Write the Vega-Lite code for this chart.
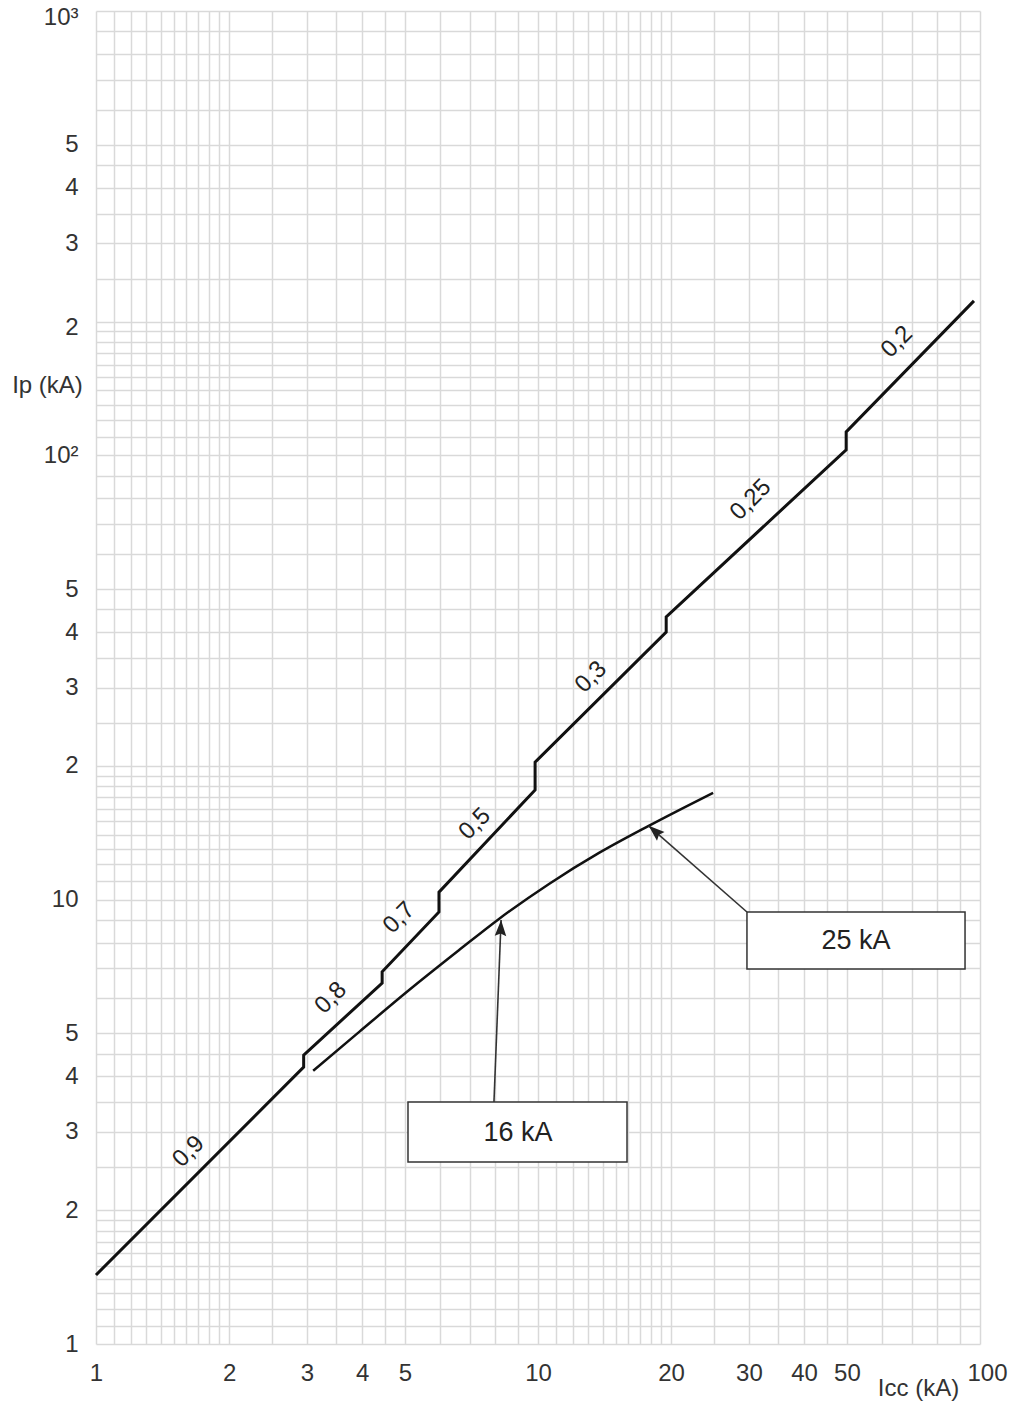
{
  "$schema": "https://vega.github.io/schema/vega-lite/v6.json",
  "width": 884,
  "height": 1333,
  "autosize": "none",
  "padding": {"left": 96, "top": 11, "right": 36, "bottom": 60},
  "background": "white",
  "config": {
    "view": {"stroke": null},
    "font": "Liberation Sans",
    "axis": {"labelFont": "Liberation Sans", "titleFont": "Liberation Sans"}
  },
  "datasets": {
    "main": [
      {"i": 1, "x": 1, "y": 1.43},
      {"i": 2, "x": 2.95, "y": 4.2},
      {"i": 3, "x": 2.95, "y": 4.47},
      {"i": 4, "x": 4.44, "y": 6.49},
      {"i": 5, "x": 4.44, "y": 6.88},
      {"i": 6, "x": 5.97, "y": 9.38},
      {"i": 7, "x": 5.97, "y": 10.4},
      {"i": 8, "x": 9.85, "y": 17.66},
      {"i": 9, "x": 9.85, "y": 20.4},
      {"i": 10, "x": 19.5, "y": 40.0},
      {"i": 11, "x": 19.5, "y": 43.3},
      {"i": 12, "x": 49.8, "y": 102.9},
      {"i": 13, "x": 49.8, "y": 112.9},
      {"i": 14, "x": 96.9, "y": 222.6}
    ],
    "curve": [
      {"i": 1, "x": 3.10, "y": 4.12},
      {"i": 2, "x": 3.94, "y": 5.04},
      {"i": 3, "x": 5.11, "y": 6.26},
      {"i": 4, "x": 6.63, "y": 7.70},
      {"i": 5, "x": 8.16, "y": 9.05},
      {"i": 6, "x": 10.59, "y": 10.85},
      {"i": 7, "x": 13.74, "y": 12.74},
      {"i": 8, "x": 17.8, "y": 14.66},
      {"i": 9, "x": 24.9, "y": 17.4}
    ],
    "cosphi": [
      {"label": "0,9", "x": 1.62, "y": 2.71},
      {"label": "0,8", "x": 3.40, "y": 6.01},
      {"label": "0,7", "x": 4.85, "y": 9.10},
      {"label": "0,5", "x": 7.20, "y": 14.8},
      {"label": "0,3", "x": 13.18, "y": 31.7},
      {"label": "0,25", "x": 30.3, "y": 79.4},
      {"label": "0,2", "x": 64.9, "y": 180}
    ],
    "boxes": [
      {"label": "16 kA", "x1": 5.08, "x2": 15.9, "y1": 2.568, "y2": 3.505, "tx": 9.01, "ty": 2.985},
      {"label": "25 kA", "x1": 29.7, "x2": 92.5, "y1": 6.98, "y2": 9.38, "tx": 52.4, "ty": 8.07}
    ],
    "arrows": [
      {"x1": 7.95, "y1": 3.505, "x2": 8.25, "y2": 9.0, "angle": 2},
      {"x1": 29.7, "y1": 9.38, "x2": 17.8, "y2": 14.66, "angle": 311}
    ]
  },
  "layer": [
    {
      "data": {"name": "main"},
      "mark": {"type": "line", "color": "#111111", "strokeWidth": 3, "strokeJoin": "miter"},
      "encoding": {
        "x": {
          "field": "x", "type": "quantitative",
          "scale": {"type": "log", "domain": [1, 100], "nice": false},
          "axis": {
            "values": [1, 1.1, 1.2, 1.3, 1.4, 1.5, 1.6, 1.7, 1.8, 1.9, 2, 2.5, 3, 3.5, 4, 4.5, 5, 6, 7, 8, 9,
                       10, 11, 12, 13, 14, 15, 16, 17, 18, 19, 20, 25, 30, 35, 40, 45, 50, 60, 70, 80, 90, 100],
            "labelExpr": "indexof([1,2,3,4,5,10,20,30,40,50,100], datum.value) >= 0 ? format(datum.value, 'd') : ''",
            "grid": true, "gridColor": "#d9d9d9", "gridWidth": 1.5,
            "ticks": false, "domain": false,
            "labelFontSize": 24, "labelColor": "#333333", "labelPadding": 17,
            "labelFlush": false, "labelOverlap": false, "labelBound": false,
            "labelOffset": {"condition": {"test": "datum.value == 100", "value": 7}, "value": 0},
            "title": "Icc (kA)", "titleFontSize": 24, "titleFontWeight": "normal", "titleColor": "#333333",
            "titleX": 822, "titleY": 44, "titleAlign": "center", "titleBaseline": "middle"
          }
        },
        "y": {
          "field": "y", "type": "quantitative",
          "scale": {"type": "log", "domain": [1, 1000], "nice": false},
          "axis": {
            "values": [1, 1.1, 1.2, 1.3, 1.4, 1.5, 1.6, 1.7, 1.8, 1.9, 2, 2.5, 3, 3.5, 4, 4.5, 5, 6, 7, 8, 9,
                       10, 11, 12, 13, 14, 15, 16, 17, 18, 19, 20, 25, 30, 35, 40, 45, 50, 60, 70, 80, 90,
                       100, 110, 120, 130, 140, 150, 160, 170, 180, 190, 200, 250, 300, 350, 400, 450, 500, 600, 700, 800, 900, 1000],
            "labelExpr": "datum.value == 1000 ? '10³' : datum.value == 100 ? '10²' : datum.value == 10 ? '10' : datum.value == 1 ? '1' : indexof([2,3,4,5,20,30,40,50,200,300,400,500], datum.value) >= 0 ? format(datum.value >= 100 ? datum.value / 100 : datum.value >= 10 ? datum.value / 10 : datum.value, 'd') : ''",
            "grid": true, "gridColor": "#d9d9d9", "gridWidth": 1.5,
            "ticks": false, "domain": false,
            "labelFontSize": 24, "labelColor": "#333333", "labelPadding": 18,
            "labelFlush": false, "labelOverlap": false, "labelBound": false,
            "labelOffset": {"condition": {"test": "datum.value == 1000 || datum.value == 200", "value": 6}, "value": 0},
            "title": "Ip (kA)", "titleFontSize": 24, "titleFontWeight": "normal", "titleColor": "#333333",
            "titleAngle": 0, "titleX": -49, "titleY": 374, "titleAlign": "center", "titleBaseline": "middle"
          }
        },
        "order": {"field": "i", "type": "quantitative"}
      }
    },
    {
      "data": {"name": "curve"},
      "mark": {"type": "line", "color": "#111111", "strokeWidth": 2.5, "interpolate": "monotone"},
      "encoding": {
        "x": {"field": "x", "type": "quantitative"},
        "y": {"field": "y", "type": "quantitative"},
        "order": {"field": "i", "type": "quantitative"}
      }
    },
    {
      "data": {"name": "cosphi"},
      "mark": {"type": "text", "angle": -45, "fontSize": 24, "color": "#222222", "align": "center", "baseline": "middle"},
      "encoding": {
        "x": {"field": "x", "type": "quantitative"},
        "y": {"field": "y", "type": "quantitative"},
        "text": {"field": "label"}
      }
    },
    {
      "data": {"name": "arrows"},
      "mark": {"type": "rule", "color": "#333333", "strokeWidth": 1.6},
      "encoding": {
        "x": {"field": "x1", "type": "quantitative"},
        "y": {"field": "y1", "type": "quantitative"},
        "x2": {"field": "x2"},
        "y2": {"field": "y2"}
      }
    },
    {
      "data": {"name": "arrows"},
      "mark": {"type": "point", "shape": "M0,0L-0.36,1L0,0.85L0.36,1Z", "size": 1024, "filled": true, "color": "#222222", "opacity": 1},
      "encoding": {
        "x": {"field": "x2", "type": "quantitative"},
        "y": {"field": "y2", "type": "quantitative"},
        "angle": {"field": "angle", "type": "quantitative", "scale": null}
      }
    },
    {
      "data": {"name": "boxes"},
      "mark": {"type": "rect", "fill": "white", "stroke": "#333333", "strokeWidth": 1.5},
      "encoding": {
        "x": {"field": "x1", "type": "quantitative"},
        "x2": {"field": "x2"},
        "y": {"field": "y1", "type": "quantitative"},
        "y2": {"field": "y2"}
      }
    },
    {
      "data": {"name": "boxes"},
      "mark": {"type": "text", "fontSize": 27, "color": "#222222", "align": "center", "baseline": "middle"},
      "encoding": {
        "x": {"field": "tx", "type": "quantitative"},
        "y": {"field": "ty", "type": "quantitative"},
        "text": {"field": "label"}
      }
    }
  ]
}
